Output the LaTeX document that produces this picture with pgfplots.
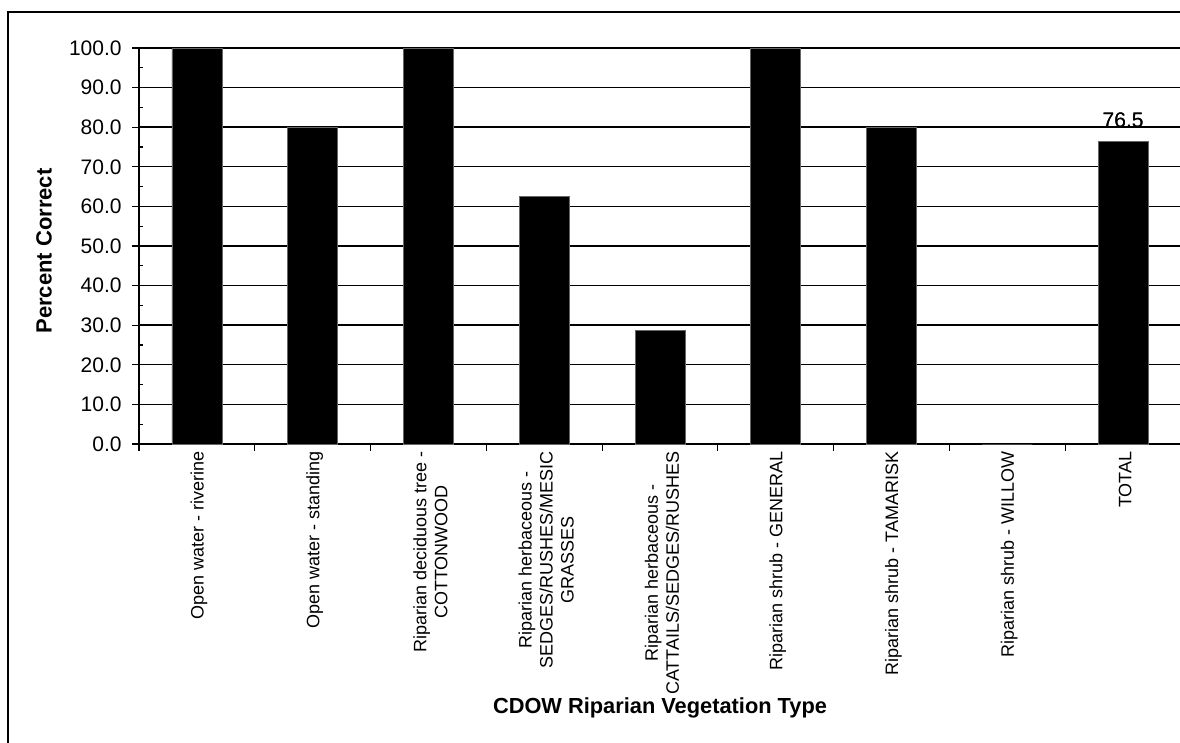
\documentclass[border=0pt]{standalone}
\usepackage{fontspec}
\setmainfont{Liberation Sans}
\usepackage{pgfplots}
\pgfplotsset{compat=1.18}

\begin{document}
\begin{tikzpicture}
\useasboundingbox (0pt,0pt) rectangle (590pt,371.5pt);
% outer chart border (right and bottom sides are cut off in the reference)
\draw[line width=0.7pt] (4pt,0pt) -- (4pt,365.5pt) -- (590pt,365.5pt);

\begin{axis}[
  at={(69.5pt,149.5pt)}, anchor=south west,
  scale only axis,
  width=521pt, height=198pt,
  xmin=-0.5, xmax=8.5,
  ymin=0, ymax=100,
  axis x line*=bottom,
  axis y line*=left,
  axis line style={black, line width=0.75pt},
  ytick={0,10,...,100},
  minor y tick num=1,
  tick align=outside,
  major tick length=3.5pt,
  minor tick length=2pt,
  minor tick style={xshift=2pt},
  tick style={black, line width=0.6pt},
  ymajorgrids,
  grid style={black, line width=0.7pt},
  xtick={-0.5,0.5,1.5,2.5,3.5,4.5,5.5,6.5,7.5,8.5},
  x tick label as interval,
  xticklabels={
    {Open water - riverine},
    {Open water - standing},
    {Riparian deciduous tree -\\COTTONWOOD},
    {Riparian herbaceous -\\SEDGES/RUSHES/MESIC\\GRASSES},
    {Riparian herbaceous -\\CATTAILS/SEDGES/RUSHES},
    {Riparian shrub - GENERAL},
    {Riparian shrub - TAMARISK},
    {Riparian shrub - WILLOW},
    {TOTAL}
  },
  xticklabel style={rotate=90, anchor=east, align=center, inner sep=0pt,
    font=\fontsize{9}{10.5}\selectfont, yshift=-1pt},
  yticklabel style={anchor=east, inner sep=0pt, xshift=-5pt,
    font=\fontsize{10.5}{12}\selectfont},
  /pgf/number format/assume math mode=true,
  yticklabel={\pgfmathprintnumber[fixed,fixed zerofill,precision=1]{\tick}},
  xlabel={\fontsize{10.9}{13}\selectfont\bfseries CDOW Riparian Vegetation Type},
  ylabel={\fontsize{11}{13}\selectfont\bfseries Percent Correct},
  every axis x label/.style={at={(axis description cs:0.5,-0.6667)}, anchor=center},
  every axis y label/.style={at={(axis description cs:-0.0912,0.487)}, anchor=center,
    rotate=90},
  clip=false,
]
\addplot[ybar, bar width=25pt, fill=black, draw=black!60, line width=0.3pt]
coordinates {
  (0,100) (1,80) (2,100) (3,62.5) (4,28.6) (5,100) (6,80) (7,0) (8,76.5)
};
\addplot[draw=none, mark=none, forget plot, nodes near coords, point meta=y,
  nodes near coords={\pgfmathprintnumber[fixed,fixed zerofill,precision=1]{\pgfplotspointmeta}},
  every node near coord/.style={anchor=south, inner sep=0pt, yshift=6.5pt,
    font=\fontsize{10.5}{12}\selectfont, /pgf/number format/assume math mode=true}]
coordinates {(8,76.5) (8,76.5)};
\end{axis}
\end{tikzpicture}
\end{document}
